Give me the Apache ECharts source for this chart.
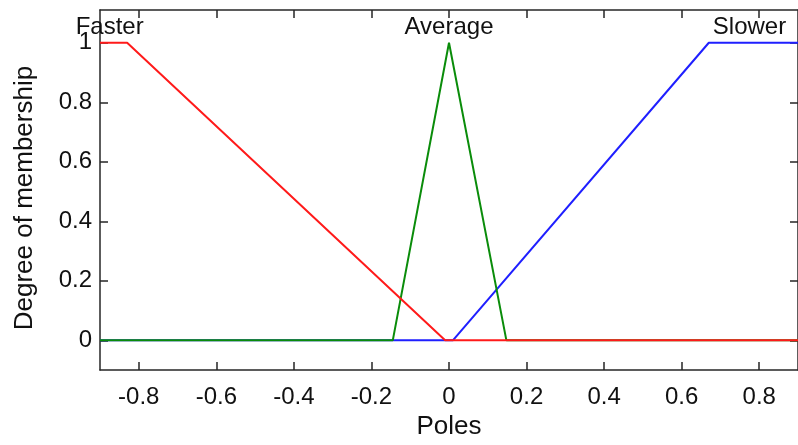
<!DOCTYPE html>
<html>
<head>
<meta charset="utf-8">
<script src="https://cdn.jsdelivr.net/npm/echarts@6/dist/echarts.min.js"></script>
<style>html,body{margin:0;padding:0;background:#fff}#c{width:798px;height:445px}</style>
</head>
<body>
<div id="c"></div>
<script>
// Data
var fasterX = [-0.9, -0.83, -0.01, 0.9];
var fasterY = [1, 1, 0, 0];
var averageX = [-0.9, -0.145, 0, 0.148, 0.9];
var averageY = [0, 0, 1, 0, 0];
var slowerX = [-0.9, 0.01, 0.67, 0.9];
var slowerY = [0, 0, 1, 1];
var mfNames = ['Faster', 'Average', 'Slower'];
var mfLabelX = [-0.875, 0, 0.775];
var mfLabelY = [1.05, 1.05, 1.05];
var xTicks = [-0.8, -0.6, -0.4, -0.2, 0, 0.2, 0.4, 0.6, 0.8];
var yTicks = [0, 0.2, 0.4, 0.6, 0.8, 1];

function pairs(xs, ys) { return xs.map(function (x, i) { return [x, ys[i]]; }); }

var FONT = '"Liberation Sans", Arial, sans-serif';
var TXT = '#111';
var AX = '#262626';

var chart = echarts.init(document.getElementById('c'), null, { renderer: 'canvas' });
var axisCommonX = {
  type: 'value', min: -0.9, max: 0.9,
  splitLine: { show: false },
  axisLine: { show: true, onZero: false, lineStyle: { color: AX, width: 1.5 } },
  axisTick: { show: true, inside: true, length: 8, customValues: xTicks, lineStyle: { color: AX, width: 1.5 } }
};
var axisCommonY = {
  type: 'value', min: -0.1, max: 1.11,
  splitLine: { show: false },
  axisLine: { show: true, onZero: false, lineStyle: { color: AX, width: 1.5 } },
  axisTick: { show: true, inside: true, length: 8, customValues: yTicks, lineStyle: { color: AX, width: 1.5 } }
};
chart.setOption({
  animation: false,
  backgroundColor: '#fff',
  grid: { left: 100, right: -3, top: 10, bottom: 72, containLabel: false },
  xAxis: [
    Object.assign({}, axisCommonX, {
      position: 'bottom',
      name: 'Poles', nameLocation: 'middle', nameGap: 43,
      nameTextStyle: { fontFamily: FONT, fontSize: 26, color: TXT },
      axisLabel: { show: true, customValues: xTicks, margin: 15, fontFamily: FONT, fontSize: 24, color: TXT,
        formatter: function (v) { return String(Math.round(v * 10) / 10); } }
    }),
    Object.assign({}, axisCommonX, { position: 'top', axisLabel: { show: false } })
  ],
  yAxis: [
    Object.assign({}, axisCommonY, {
      position: 'left',
      name: 'Degree of membership', nameLocation: 'middle', nameGap: 62,
      nameTextStyle: { fontFamily: FONT, fontSize: 26, color: TXT, padding: [0, 16, 0, 0] },
      axisLabel: { show: true, customValues: yTicks, margin: 8, fontFamily: FONT, fontSize: 24, color: TXT,
        formatter: function (v) { return String(Math.round(v * 10) / 10); } }
    }),
    Object.assign({}, axisCommonY, { position: 'right', axisLabel: { show: false } })
  ],
  series: [
    { name: 'Slower', type: 'line', data: pairs(slowerX, slowerY), showSymbol: false, symbol: 'none',
      lineStyle: { color: '#1f1fff', width: 2 }, z: 2 },
    { name: 'Average', type: 'line', data: pairs(averageX, averageY), showSymbol: false, symbol: 'none',
      lineStyle: { color: '#0a8c0a', width: 2 }, z: 3 },
    { name: 'Faster', type: 'line', data: pairs(fasterX, fasterY), showSymbol: false, symbol: 'none',
      lineStyle: { color: '#ff1a1a', width: 2 }, z: 4 },
    { type: 'scatter', symbolSize: 0, clip: false, z: 10, itemStyle: { opacity: 1 },
      data: mfNames.map(function (n, i) { return { name: n, value: [mfLabelX[i], mfLabelY[i]] }; }),
      label: { show: true, position: 'inside', formatter: '{b}', fontFamily: FONT, fontSize: 24, color: TXT } }
  ]
});
</script>
</body>
</html>
